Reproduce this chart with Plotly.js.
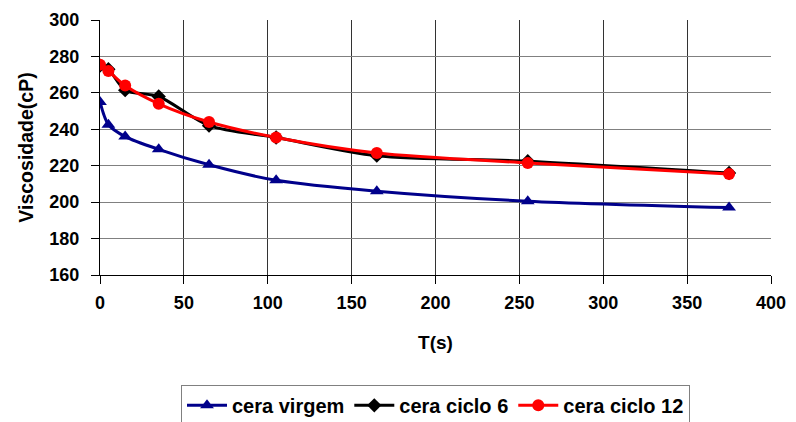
<!DOCTYPE html>
<html><head><meta charset="utf-8">
<script src="https://cdn.plot.ly/plotly-3.0.1.min.js"></script>
<style>html,body{margin:0;padding:0;background:#fff}#chart{width:796px;height:422px}</style>
</head><body><div id="chart"></div>
<script>
const tempo = [0, 5, 15, 35, 65, 105, 165, 255, 375];
const ceraVirgem = [255, 242.5, 236, 229, 220.5, 212, 206, 200.5, 197];
const ceraCiclo6 = [275, 273, 261.5, 258, 242, 235.5, 225.5, 222.5, 216];
const ceraCiclo12 = [275.5, 272, 264, 254, 244, 235.5, 227, 221.5, 215.5];
const xTicks = [0, 50, 100, 150, 200, 250, 300, 350, 400];
const yTicks = [160, 180, 200, 220, 240, 260, 280, 300];

const fnt = {family: 'Liberation Sans, Arial, sans-serif', size: 18, color: '#000', weight: 'bold'};
const traces = [
  {x: tempo, y: ceraVirgem, name: 'cera virgem', mode: 'lines+markers',
   line: {color: '#00008B', width: 3, shape: 'spline', smoothing: 0.8},
   marker: {symbol: 'triangle-up', size: 12, color: '#00008B'}},
  {x: tempo, y: ceraCiclo6, name: 'cera ciclo 6', mode: 'lines+markers',
   line: {color: '#000000', width: 3, shape: 'spline', smoothing: 0.8},
   marker: {symbol: 'diamond', size: 11, color: '#000000'}},
  {x: tempo, y: ceraCiclo12, name: 'cera ciclo 12', mode: 'lines+markers',
   line: {color: '#FF0000', width: 3, shape: 'spline', smoothing: 0.8},
   marker: {symbol: 'circle', size: 12, color: '#FF0000'}}
];
const layout = {
  width: 796, height: 422,
  margin: {l: 100, r: 25, t: 20, b: 147, autoexpand: false},
  paper_bgcolor: '#fff', plot_bgcolor: '#fff',
  showlegend: true,
  font: fnt,
  xaxis: {range: [0, 400], tickvals: xTicks, ticktext: xTicks.map(String),
    showgrid: true, gridcolor: '#333', gridwidth: 1,
    showline: true, linecolor: '#000', linewidth: 1, mirror: false,
    ticks: 'outside', ticklen: 8, tickcolor: '#000', zeroline: false,
    tickfont: fnt, ticklabelstandoff: 3,
    title: {text: 'T(s)', font: {...fnt, size: 19}, standoff: 24}},
  yaxis: {range: [160, 300], tickvals: yTicks, ticktext: yTicks.map(String),
    showgrid: true, gridcolor: '#808080', gridwidth: 1,
    showline: true, linecolor: '#000', linewidth: 1,
    ticks: 'outside', ticklen: 8, tickcolor: '#000', zeroline: false,
    tickfont: fnt, ticklabelstandoff: 8,
    title: {text: 'Viscosidade(cP)', font: {...fnt, size: 19.5}, standoff: 10}},
  legend: {orientation: 'h', x: 0.5, xanchor: 'center', yref: 'container', y: 0.088, yanchor: 'top',
    bordercolor: '#808080', borderwidth: 1, bgcolor: '#fff',
    font: {...fnt, size: 20}, itemwidth: 40}
};
Plotly.newPlot('chart', traces, layout, {displayModeBar: false, staticPlot: true});
</script></body></html>
